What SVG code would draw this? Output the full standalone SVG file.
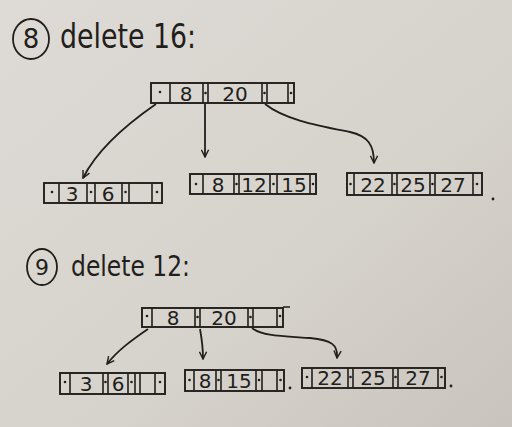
<svg xmlns="http://www.w3.org/2000/svg" width="512" height="427" viewBox="0 0 512 427">
<defs>
<linearGradient id="bg" x1="0" y1="0" x2="1" y2="1">
<stop offset="0" stop-color="#dedbd6"/>
<stop offset="0.6" stop-color="#d6d2cc"/>
<stop offset="1" stop-color="#c9c4bd"/>
</linearGradient>
<marker id="ah" viewBox="0 0 10 10" refX="9" refY="5" markerWidth="9" markerHeight="9" orient="auto-start-reverse" markerUnits="userSpaceOnUse">
<path d="M1,1 L9,5 L1,9" fill="none" stroke="#221e1b" stroke-width="1.6"/>
</marker>
<style>
.box{fill:none;stroke:#221e1b;stroke-width:1.9}
.div{stroke:#221e1b;stroke-width:1.6}
.ptr{fill:#221e1b}
.key{font-family:"DejaVu Sans","Liberation Sans",sans-serif;font-size:20px;fill:#221e1b;text-anchor:middle}
.title{font-family:"DejaVu Sans","Liberation Sans",sans-serif;fill:#221e1b}
.conn{fill:none;stroke:#221e1b;stroke-width:1.8;marker-end:url(#ah)}
</style>
</defs>
<rect width="512" height="427" fill="url(#bg)"/>

<g id="title1">
<ellipse cx="31" cy="39" rx="18" ry="20" fill="none" stroke="#221e1b" stroke-width="1.8"/>
<text class="title" x="31" y="48" font-size="26" text-anchor="middle">8</text>
<text class="title" x="60" y="48" font-size="34" textLength="136" lengthAdjust="spacingAndGlyphs">delete 16:</text>
</g>

<g id="root1">
<rect class="box" x="151" y="83" width="143" height="20"/>
<path class="div" d="M170,83V103M203,83V103M208,83V103M262,83V103M267,83V103M288,83V103"/>
<circle class="ptr" cx="160" cy="92" r="1.3"/><circle class="ptr" cx="205.5" cy="93" r="1.3"/><circle class="ptr" cx="264.5" cy="93" r="1.3"/><circle class="ptr" cx="291" cy="93" r="1.3"/>
<text class="key" x="186" y="101">8</text>
<text class="key" x="235" y="101">20</text>
</g>

<g id="leaf1a">
<rect class="box" x="44" y="183" width="118" height="20"/>
<path class="div" d="M59,183V203M87,183V203M95,183V203M122,183V203M129,183V203M152,183V203"/>
<circle class="ptr" cx="52" cy="192" r="1.3"/><circle class="ptr" cx="91" cy="192" r="1.3"/><circle class="ptr" cx="125.5" cy="192" r="1.3"/><circle class="ptr" cx="157" cy="192" r="1.3"/>
<text class="key" x="72" y="201">3</text>
<text class="key" x="108" y="201">6</text>
</g>

<g id="leaf1b">
<rect class="box" x="190" y="174" width="126" height="20"/>
<path class="div" d="M203,174V194M234,174V194M239,174V194M270,174V194M277,174V194M310,174V194"/>
<circle class="ptr" cx="196" cy="184" r="1.3"/><circle class="ptr" cx="236.5" cy="184" r="1.3"/><circle class="ptr" cx="273.5" cy="184" r="1.3"/><circle class="ptr" cx="313" cy="184" r="1.3"/>
<text class="key" x="218" y="192">8</text>
<text class="key" x="254" y="192">12</text>
<text class="key" x="294" y="192">15</text>
</g>

<g id="leaf1c">
<rect class="box" x="347" y="173" width="135" height="22"/>
<path class="div" d="M354,173V195M392,173V195M397,173V195M430,173V195M435,173V195M473,173V195"/>
<circle class="ptr" cx="350.5" cy="184" r="1.3"/><circle class="ptr" cx="394.5" cy="184" r="1.3"/><circle class="ptr" cx="432.5" cy="184" r="1.3"/><circle class="ptr" cx="477" cy="184" r="1.3"/>
<text class="key" x="373" y="192">22</text>
<text class="key" x="413" y="192">25</text>
<text class="key" x="453" y="192">27</text>
<circle class="ptr" cx="493" cy="199" r="1.4"/>
</g>

<g id="title2">
<ellipse cx="42" cy="267" rx="15" ry="18" fill="none" stroke="#221e1b" stroke-width="1.8"/>
<text class="title" x="42" y="275" font-size="22" text-anchor="middle">9</text>
<text class="title" x="71" y="276" font-size="29" textLength="119" lengthAdjust="spacingAndGlyphs">delete 12:</text>
</g>

<g id="root2">
<rect class="box" x="142" y="308" width="141" height="19"/>
<path class="div" d="M283,307H290M152,308V327M195,308V327M200,308V327M248,308V327M253,308V327M277,308V327"/>
<circle class="ptr" cx="147" cy="316" r="1.3"/><circle class="ptr" cx="197.5" cy="317" r="1.3"/><circle class="ptr" cx="250.5" cy="317" r="1.3"/><circle class="ptr" cx="280" cy="316" r="1.3"/>
<text class="key" x="173" y="325">8</text>
<text class="key" x="224" y="325">20</text>
</g>

<g id="leaf2a">
<rect class="box" x="60" y="373" width="105" height="21"/>
<path class="div" d="M70,373V394M103,373V394M108,373V394M128,373V394M135,373V394M140,373V394M155,373V394"/>
<circle class="ptr" cx="65" cy="382" r="1.3"/><circle class="ptr" cx="105.5" cy="382" r="1.3"/><circle class="ptr" cx="131.5" cy="382" r="1.3"/><circle class="ptr" cx="160" cy="382" r="1.3"/>
<text class="key" x="86" y="391">3</text>
<text class="key" x="118" y="391">6</text>
</g>

<g id="leaf2b">
<rect class="box" x="185" y="370" width="99" height="21"/>
<path class="div" d="M194,370V391M216,370V391M221,370V391M256,370V391M262,370V391M277,370V391"/>
<circle class="ptr" cx="189.5" cy="380" r="1.3"/><circle class="ptr" cx="218.5" cy="380" r="1.3"/><circle class="ptr" cx="259" cy="380" r="1.3"/><circle class="ptr" cx="280.5" cy="380" r="1.3"/>
<text class="key" x="205" y="388">8</text>
<text class="key" x="239" y="388">15</text>
<circle class="ptr" cx="290" cy="388" r="1.4"/>
</g>

<g id="leaf2c">
<rect class="box" x="302" y="368" width="143" height="20"/>
<path class="div" d="M312,368V388M348,368V388M353,368V388M393,368V388M398,368V388M438,368V388"/>
<circle class="ptr" cx="307" cy="377" r="1.3"/><circle class="ptr" cx="350.5" cy="377" r="1.3"/><circle class="ptr" cx="395.5" cy="377" r="1.3"/><circle class="ptr" cx="441.5" cy="377" r="1.3"/>
<text class="key" x="330" y="385">22</text>
<text class="key" x="373" y="385">25</text>
<text class="key" x="418" y="385">27</text>
<circle class="ptr" cx="451" cy="386" r="1.4"/>
</g>

<g id="connectors">
<path class="conn" d="M156,104 C130,122 98,148 83,178"/>
<path class="conn" d="M205,104 L205,157"/>
<path class="conn" d="M265,104 C285,120 320,126 350,132 C368,136 374,145 374,163"/>
<path class="conn" d="M148,329 C132,340 118,350 107,364"/>
<path class="conn" d="M200,329 C202,340 203,348 203,359"/>
<path class="conn" d="M252,328 C262,336 280,336 310,338 C332,340 338,345 337,358"/>
</g>
</svg>
